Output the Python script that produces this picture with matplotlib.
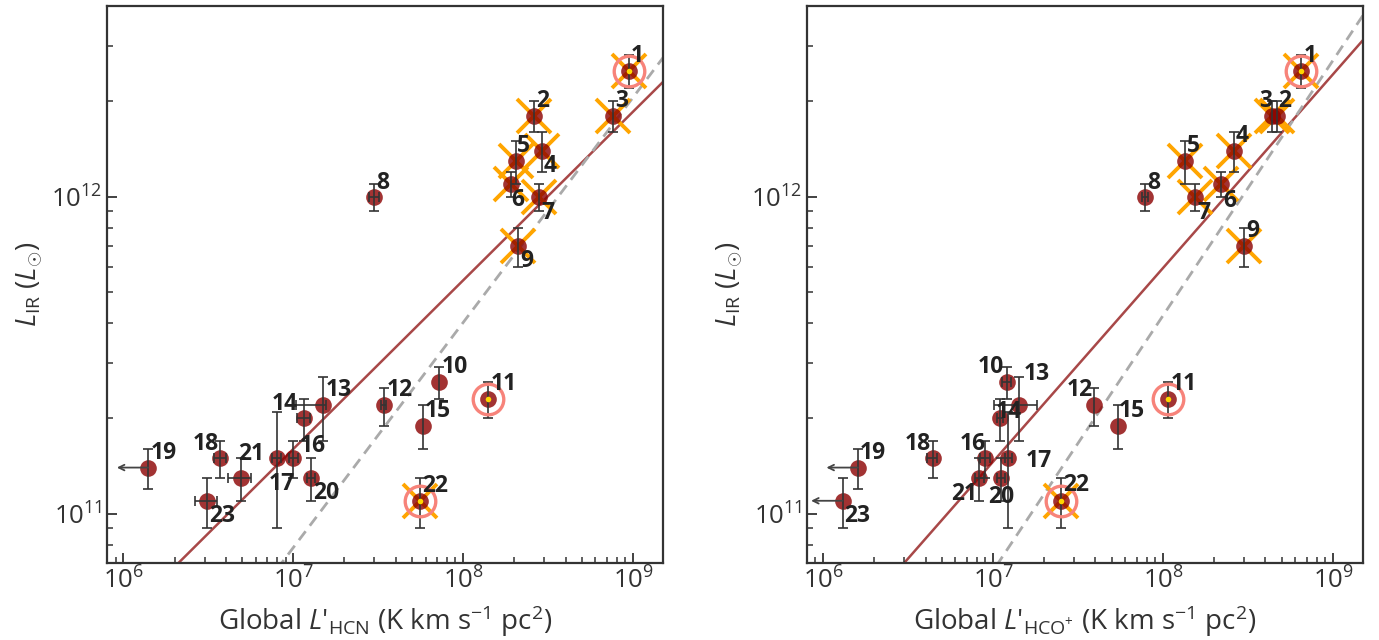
import numpy as np
import matplotlib
matplotlib.use("Agg")
import matplotlib.pyplot as plt

plt.rcParams['font.family'] = ['Open Sans', 'DejaVu Sans']
plt.rcParams['mathtext.fontset'] = 'custom'
plt.rcParams['mathtext.rm'] = 'Open Sans'
plt.rcParams['mathtext.it'] = 'Open Sans:italic'
plt.rcParams['mathtext.bf'] = 'Open Sans:bold'

# galaxy ids 1..23
ids = [str(i) for i in range(1, 24)]

# L_IR (Lsun) and its error
lir = np.array([2.5e12, 1.8e12, 1.8e12, 1.4e12, 1.3e12, 1.1e12, 1.0e12, 1.0e12, 7.0e11,
                2.6e11, 2.3e11, 2.2e11, 2.2e11, 2.0e11, 1.9e11, 1.5e11, 1.5e11, 1.5e11,
                1.4e11, 1.3e11, 1.3e11, 1.1e11, 1.1e11])
lir_err = np.array([0.3e12, 0.2e12, 0.2e12, 0.2e12, 0.2e12, 0.1e12, 0.1e12, 0.1e12, 1.0e11,
                    0.3e11, 0.3e11, 0.3e11, 0.5e11, 0.3e11, 0.3e11, 0.2e11, 0.6e11, 0.2e11,
                    0.2e11, 0.2e11, 0.2e11, 0.2e11, 0.2e11])

# global L'HCN
hcn = np.array([9.4e8, 2.6e8, 7.6e8, 2.9e8, 2.05e8, 1.9e8, 2.8e8, 3.0e7, 2.1e8,
                7.2e7, 1.4e8, 3.4e7, 1.5e7, 1.15e7, 5.8e7, 1.0e7, 8.0e6, 3.7e6,
                1.4e6, 1.27e7, 4.9e6, 5.6e7, 3.1e6])
hcn_err_lo = np.array([0, 0, 0, 0, 0, 0, 0, 0.2e7, 0,
                       0, 0, 0.1e7, 0.46e7, 0.1e7, 0, 0.06e7, 0.05e7, 0.3e6,
                       0, 0.07e7, 0.75e6, 0, 0.45e6])
hcn_err_hi = np.array([0, 0, 0, 0, 0, 0, 0, 0.2e7, 0,
                       0, 0, 0.1e7, 0.05e7, 0.1e7, 0, 0.06e7, 0.05e7, 0.3e6,
                       0, 0.07e7, 0.75e6, 0, 0.45e6])
hcn_ul = [19]

# global L'HCO+
hcop = np.array([6.5e8, 4.7e8, 4.4e8, 2.6e8, 1.34e8, 2.2e8, 1.55e8, 7.8e7, 3.0e8,
                 1.2e7, 1.07e8, 3.9e7, 1.41e7, 1.1e7, 5.4e7, 9.0e6, 1.23e7, 4.4e6,
                 1.6e6, 1.11e7, 8.3e6, 2.5e7, 1.3e6])
hcop_err = np.array([0, 0, 0, 0, 0, 0, 0, 0.3e7, 0,
                     0.08e7, 0, 0, 0.4e7, 0.05e7, 0, 0.06e7, 0.06e7, 0.3e6,
                     0, 0.06e7, 0.05e7, 0, 0])
hcop_ul = [19, 23]

crossed = [1, 2, 3, 4, 5, 6, 7, 9, 22]
ringed = [1, 11, 22]

# power-law lines: log L_IR = a log L' + b
hcn_fit = (0.532, 7.481)
hcn_ref = (0.71, 5.924)
hcop_fit = (0.611, 6.888)
hcop_ref = (0.805, 5.186)

# label placement (ha, dx px, dy px downward)
hcn_lab = [('left', 2.5, -17), ('left', 2, -17), ('left', 2, -17), ('left', 1.5, 13),
           ('left', 1, -17), ('left', 1, 14), ('left', 2, 14), ('left', 2, -16),
           ('left', 2, 13), ('left', 3, -17), ('left', 2.5, -17), ('left', 3, -17),
           ('left', 2, -17), ('right', -5.5, -16), ('left', 2, -17), ('left', 6, -14),
           ('center', 5, 24), ('right', -1, -16), ('left', 2.7, -17), ('left', 2, 13),
           ('left', -3, -26), ('left', 2, -17), ('left', 2, 13)]
hcop_lab = [('left', 2.6, -17), ('left', 0.7, -17), ('right', 0, -17), ('left', 2, -17),
            ('left', 2, -17), ('left', 1.5, 15), ('left', 2, 14), ('left', 2, -16),
            ('left', 2, -17), ('right', -3, -17), ('left', 3, -17), ('right', -1, -17),
            ('left', 5, -33), ('left', -4, -8), ('left', 1.5, -17), ('right', 0, -16),
            ('left', 17, 1), ('right', -1.5, -16), ('left', 2, -17), ('center', 0, 17),
            ('right', -2, 14), ('left', 2.6, -18), ('left', 2, 13)]

fig = plt.figure(figsize=(13.79, 6.4), dpi=100)
ax1 = fig.add_axes([0.0776, 0.1203, 0.4032, 0.8703])
ax2 = fig.add_axes([0.5850, 0.1203, 0.4034, 0.8703])


def panel(ax, x, xlo, xhi, ul, fit, ref, labs, xlabel):
    ax.set_xscale('log')
    ax.set_yscale('log')
    sel = np.array(crossed) - 1
    ax.plot(x[sel], lir[sel], 'x', ms=24, mew=2.8, color='orange', zorder=2)
    ax.plot(x, lir, 'o', ms=12, color='#8b0000', alpha=0.8, mec='none', zorder=3)
    ax.errorbar(x, lir, yerr=lir_err, fmt='none', ecolor='#333333', elinewidth=1.2,
                capsize=3.5, capthick=1.2, zorder=4)
    m = (xlo > 0) | (xhi > 0)
    ax.errorbar(x[m], lir[m], xerr=[xlo[m], xhi[m]], fmt='none', ecolor='#333333',
                elinewidth=1.2, capsize=3.5, capthick=1.2, zorder=4)
    r = np.array(ringed) - 1
    ax.plot(x[r], lir[r], 'o', ms=22, mfc='none', mec='#f7837a', mew=2.4, zorder=5)
    ax.plot(x[r], lir[r], 'o', ms=4, color='gold', mec='none', zorder=6)
    for k in ul:
        ax.annotate('', xy=(x[k - 1] / 10 ** 0.185, lir[k - 1]), xytext=(x[k - 1], lir[k - 1]),
                    arrowprops=dict(arrowstyle='->', color='#444444', lw=1.3,
                                    shrinkA=0, shrinkB=0), zorder=4)
    xx = np.logspace(5.5, 9.5, 50)
    ax.plot(xx, 10 ** (fit[0] * np.log10(xx) + fit[1]), color='#a84848', lw=1.8, zorder=1)
    ax.plot(xx, 10 ** (ref[0] * np.log10(xx) + ref[1]), color='#aaaaaa', lw=2,
            ls=(0, (4, 2.5)), zorder=1)
    for i, (ha, dx, dy) in enumerate(labs):
        ax.annotate(ids[i], (x[i], lir[i]), xytext=(dx, -(dy + 8)),
                    textcoords='offset pixels', ha=ha, va='baseline',
                    fontsize=16.5, fontweight='bold', color='#222222', zorder=7)
    ax.set_xlim(8e5, 1.5e9)
    ax.set_ylim(7.0e10, 4.0e12)
    ax.tick_params(which='both', direction='in', top=False, right=False,
                   colors='#333333', labelcolor='#333333', labelsize=18.5)
    ax.tick_params(which='major', length=7, width=1.3)
    ax.tick_params(which='minor', length=4, width=1.1)
    for s in ax.spines.values():
        s.set_linewidth(1.6)
        s.set_color('#333333')
    ax.set_xlabel(xlabel, fontsize=20, color='#333333', labelpad=6)
    ax.set_ylabel(r'$L_{\rm IR}$ ($L_{\odot}$)', fontsize=20, color='#333333')


panel(ax1, hcn, hcn_err_lo, hcn_err_hi, hcn_ul, hcn_fit, hcn_ref, hcn_lab,
      r"Global $L$'$_{\rm HCN}$ (K km s$^{-1}$ pc$^{2}$)")
panel(ax2, hcop, hcop_err, hcop_err, hcop_ul, hcop_fit, hcop_ref, hcop_lab,
      r"Global $L$'$_{\rm HCO^{+}}$ (K km s$^{-1}$ pc$^{2}$)")

fig.savefig('out.png', dpi=100)
